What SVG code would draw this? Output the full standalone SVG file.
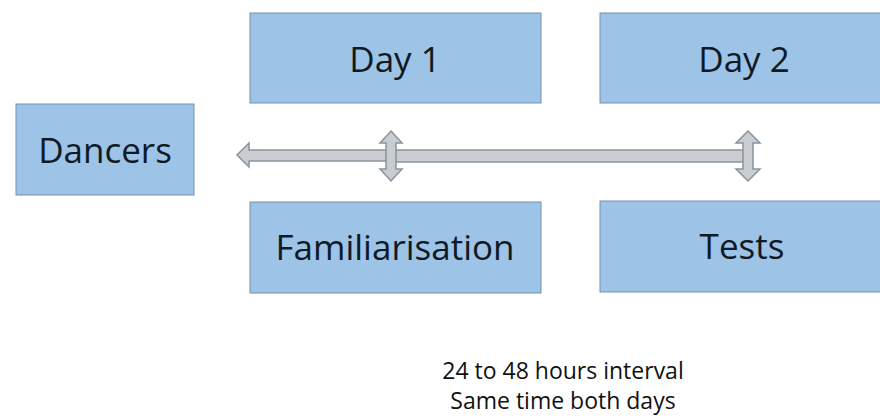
<svg xmlns="http://www.w3.org/2000/svg" width="880" height="418" viewBox="0 0 880 418">
<style>
.box{fill:#9dc3e6;stroke:#7590ad;stroke-width:1}
.lbl{font-family:"Open Sans","Liberation Sans",sans-serif;font-size:35px;fill:#0f1a24;text-anchor:middle}
.note{font-family:"Open Sans","Liberation Sans",sans-serif;font-size:23px;fill:#111;text-anchor:middle}
.arr{fill:#c9cdd1;stroke:#8a949c;stroke-width:1.5;stroke-linejoin:miter}
</style>
<rect width="880" height="418" fill="#fff"/>
<g id="dancers"><rect class="box" x="16" y="104" width="178" height="91"/><text class="lbl" x="105" y="163">Dancers</text></g>
<g id="day1"><rect class="box" x="250" y="13" width="291" height="90"/><text class="lbl" x="395" y="72">Day 1</text></g>
<g id="day2"><rect class="box" x="600" y="13" width="290" height="90"/><text class="lbl" x="744" y="72">Day 2</text></g>
<g id="familiarisation"><rect class="box" x="250" y="202" width="291" height="91"/><text class="lbl" x="395" y="260">Familiarisation</text></g>
<g id="tests"><rect class="box" x="600" y="201" width="290" height="91"/><text class="lbl" x="742" y="259">Tests</text></g>
<g id="connectors">
<path class="arr" d="M237,155 L249,143 L249,150 L387,150 L387,161 L249,161 L249,167 Z"/>
<rect class="arr" x="394" y="150" width="352" height="12"/>
<path class="arr" d="M391,131 L402,143 L396,143 L396,169 L402,169 L391,181 L380,169 L386,169 L386,143 L380,143 Z"/>
<path class="arr" d="M748,131 L760,143 L753,143 L753,169 L760,169 L748,181 L736,169 L743,169 L743,143 L736,143 Z"/>
</g>
<g id="note">
<text class="note" x="563" y="379">24 to 48 hours interval</text>
<text class="note" x="563" y="409">Same time both days</text>
</g>
</svg>
